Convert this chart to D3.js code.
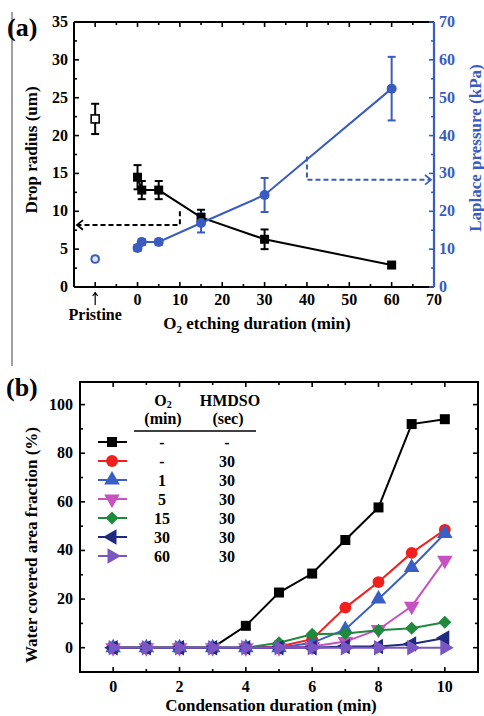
<!DOCTYPE html>
<html>
<head>
<meta charset="utf-8">
<script src="https://cdn.jsdelivr.net/npm/d3@7"></script>
<style>
  body { margin: 0; background: #fff; }
  svg { display: block; }
</style>
</head>
<body>
<svg id="chart" width="484" height="716"></svg>
<script>
// panel (a) data
const etchTime = [0, 1, 5, 15, 30, 60];
const radius = [14.5, 12.8, 12.8, 9.2, 6.3, 2.9];
const radiusErr = [1.6, 1.2, 1.2, 1.0, 1.3, 0.3];
const pressure = [10.3, 11.9, 11.9, 16.9, 24.3, 52.4];
const pressureErr = [0.8, 0.8, 0.8, 2.5, 4.5, 8.4];
const pristineX = -10;
const pristineRadius = 22.2, pristineRadiusErr = 2.0;
const pristinePressure = 7.4, pristinePressureErr = 0.6;
const aXTicks = [0, 10, 20, 30, 40, 50, 60, 70];
const aYLTicks = [0, 5, 10, 15, 20, 25, 30, 35];
const aYRTicks = [0, 10, 20, 30, 40, 50, 60, 70];

// panel (b) data
const condTime = [0, 1, 2, 3, 4, 5, 6, 7, 8, 9, 10];
const sNone = [0, 0, 0, 0, 9, 22.7, 30.5, 44.3, 57.7, 92, 94];
const sH = [0, 0, 0, 0, 0, 0.5, 3.5, 16.5, 27, 39, 48.5];
const sO1 = [0, 0, 0, 0, 0, 0, 2, 7.5, 20, 33, 47];
const sO5 = [0, 0, 0, 0, 0, 0, 0.5, 2.5, 7.5, 17, 36];
const sO15 = [0, 0, 0, 0, 0, 2, 5.5, 5.8, 7.2, 8, 10.5];
const sO30 = [0, 0, 0, 0, 0, 0, 0, 0.5, 0.5, 1.5, 4];
const sO60 = [0, 0, 0, 0, 0, 0, 0, 0, 0, 0, 0];
const legendO2 = ["-", "-", "1", "5", "15", "30", "60"];
const legendHMDSO = ["-", "30", "30", "30", "30", "30", "30"];
const bXTicks = [0, 2, 4, 6, 8, 10];
const bYTicks = [0, 20, 40, 60, 80, 100];

const BLUE = "#3a5bbf";
const series = [
  { v: sNone, color: "#000000", sym: "square" },
  { v: sH, color: "#f21f1f", sym: "circle" },
  { v: sO1, color: "#3a5fc4", sym: "up" },
  { v: sO5, color: "#c651c0", sym: "down" },
  { v: sO15, color: "#1e8a3e", sym: "diamond" },
  { v: sO30, color: "#1f2a7e", sym: "left" },
  { v: sO60, color: "#7a56c2", sym: "right" }
];

const svg = d3.select("#chart")
  .style("font-family", '"Liberation Serif", "Times New Roman", Times, serif')
  .style("font-weight", "bold");

function symPath(sym, size) {
  const types = { square: d3.symbolSquare, circle: d3.symbolCircle, up: d3.symbolTriangle,
    down: d3.symbolTriangle, left: d3.symbolTriangle, right: d3.symbolTriangle, diamond: d3.symbolSquare };
  return d3.symbol().type(types[sym]).size(size)();
}
const symRot = { square: 0, circle: 0, up: 0, down: 180, left: -90, right: 90, diamond: 45 };
const symSize = s => s === "circle" ? 110 : s === "square" ? 100 : s === "diamond" ? 85 : 105;

// gray frame line at left
svg.append("line").attr("x1", 12).attr("x2", 12).attr("y1", 12).attr("y2", 366)
  .attr("stroke", "#8a8a8a").attr("stroke-width", 1.6);

// ---------- Panel (a)
const aX = d3.scaleLinear().domain([-15, 70]).range([74, 434]);
const aYL = d3.scaleLinear().domain([0, 35]).range([287, 22]);
const aYR = d3.scaleLinear().domain([0, 70]).range([287, 22]);
const ga = svg.append("g");

// axes frame
ga.append("line").attr("x1", aX(-15)).attr("x2", aX(70)).attr("y1", aYL(35)).attr("y2", aYL(35))
  .attr("stroke", "#000").attr("stroke-width", 2);
ga.append("line").attr("x1", aX(-15)).attr("x2", aX(70)).attr("y1", aYL(0)).attr("y2", aYL(0))
  .attr("stroke", "#000").attr("stroke-width", 2);
ga.append("line").attr("x1", aX(-15)).attr("x2", aX(-15)).attr("y1", aYL(0)).attr("y2", aYL(35))
  .attr("stroke", "#000").attr("stroke-width", 2);
ga.append("line").attr("x1", aX(70)).attr("x2", aX(70)).attr("y1", aYL(0)).attr("y2", aYL(35))
  .attr("stroke", BLUE).attr("stroke-width", 2.2);

// x ticks (top & bottom, inward)
d3.range(-10, 70, 5).forEach(t => {
  const len = t % 10 === 0 ? 5 : 3;
  ga.append("line").attr("x1", aX(t)).attr("x2", aX(t)).attr("y1", aYL(0)).attr("y2", aYL(0) - len)
    .attr("stroke", "#000").attr("stroke-width", 1.6);
  ga.append("line").attr("x1", aX(t)).attr("x2", aX(t)).attr("y1", aYL(35)).attr("y2", aYL(35) + len)
    .attr("stroke", "#000").attr("stroke-width", 1.6);
});
ga.selectAll(".axl").data(aXTicks).join("text")
  .attr("x", d => aX(d)).attr("y", 305).attr("text-anchor", "middle")
  .attr("font-size", 16).text(d => d);
// small upward arrow pointing at the pristine position
ga.append("path").attr("d", `M${aX(pristineX)},${305}V${293}M${aX(pristineX) - 2.5},${296}L${aX(pristineX)},${292.5}L${aX(pristineX) + 2.5},${296}`)
  .attr("fill", "none").attr("stroke", "#000").attr("stroke-width", 1.2);
ga.append("text").attr("x", aX(pristineX)).attr("y", 320).attr("text-anchor", "middle")
  .attr("font-size", 16).text("Pristine");
const aTitle = ga.append("text").attr("x", 257).attr("y", 329).attr("text-anchor", "middle").attr("font-size", 17);
aTitle.append("tspan").text("O");
aTitle.append("tspan").attr("font-size", 11).attr("dy", 4).text("2");
aTitle.append("tspan").attr("dy", -4).text(" etching duration (min)");

// left y ticks
d3.range(0, 35.1, 2.5).forEach(t => {
  const len = t % 5 === 0 ? 5 : 3;
  ga.append("line").attr("x1", aX(-15)).attr("x2", aX(-15) + len).attr("y1", aYL(t)).attr("y2", aYL(t))
    .attr("stroke", "#000").attr("stroke-width", 1.6);
});
ga.selectAll(".ayl").data(aYLTicks).join("text")
  .attr("x", 68).attr("y", d => aYL(d) + 5).attr("text-anchor", "end")
  .attr("font-size", 16).text(d => d);
ga.append("text").attr("transform", `translate(37,${150}) rotate(-90)`).attr("text-anchor", "middle")
  .attr("font-size", 17).text("Drop radius (um)");

// right y ticks
d3.range(0, 70.1, 5).forEach(t => {
  const len = t % 10 === 0 ? 5 : 3;
  ga.append("line").attr("x1", aX(70)).attr("x2", aX(70) - len).attr("y1", aYR(t)).attr("y2", aYR(t))
    .attr("stroke", BLUE).attr("stroke-width", 1.6);
});
ga.selectAll(".ayr").data(aYRTicks).join("text")
  .attr("x", 439).attr("y", d => aYR(d) + 5).attr("text-anchor", "start")
  .attr("fill", BLUE).attr("font-size", 16).text(d => d);
ga.append("text").attr("transform", `translate(481,${148}) rotate(-90)`).attr("text-anchor", "middle")
  .attr("fill", BLUE).attr("font-size", 17).text("Laplace pressure (kPa)");

// guide arrows
function chevron(g, x, y, dir, color) {
  const s = 6;
  g.append("path").attr("d", `M${x - dir * s},${y - s * 0.8}L${x},${y}L${x - dir * s},${y + s * 0.8}`)
    .attr("fill", "none").attr("stroke", color).attr("stroke-width", 1.8);
}
ga.append("path").attr("d", `M${aX(10)},${aYL(10)}V${aYL(8.2)}H${aX(-15) + 4}`)
  .attr("fill", "none").attr("stroke", "#000").attr("stroke-width", 2).attr("stroke-dasharray", "5,3");
chevron(ga, aX(-15) + 3, aYL(8.2), -1, "#000");
ga.append("path").attr("d", `M${aX(40)},${aYR(34.5)}V${aYR(28.3)}H${aX(70) - 4}`)
  .attr("fill", "none").attr("stroke", BLUE).attr("stroke-width", 2).attr("stroke-dasharray", "5,3");
chevron(ga, aX(70) - 3, aYR(28.3), 1, BLUE);

// error bars helper
function errBar(g, x, yTop, yBot, color) {
  g.append("line").attr("x1", x).attr("x2", x).attr("y1", yTop).attr("y2", yBot).attr("stroke", color).attr("stroke-width", 2);
  [yTop, yBot].forEach(y => g.append("line").attr("x1", x - 4).attr("x2", x + 4).attr("y1", y).attr("y2", y)
    .attr("stroke", color).attr("stroke-width", 2));
}

const radLine = d3.line().x((d, i) => aX(etchTime[i])).y(d => aYL(d));
ga.append("path").datum(radius).attr("d", radLine).attr("fill", "none").attr("stroke", "#000").attr("stroke-width", 2);
const presLine = d3.line().x((d, i) => aX(etchTime[i])).y(d => aYR(d));
ga.append("path").datum(pressure).attr("d", presLine).attr("fill", "none").attr("stroke", BLUE).attr("stroke-width", 2);

radius.forEach((r, i) => errBar(ga, aX(etchTime[i]), aYL(r + radiusErr[i]), aYL(r - radiusErr[i]), "#000"));
pressure.forEach((p, i) => errBar(ga, aX(etchTime[i]), aYR(p + pressureErr[i]), aYR(p - pressureErr[i]), BLUE));
errBar(ga, aX(pristineX), aYL(pristineRadius + pristineRadiusErr), aYL(pristineRadius - pristineRadiusErr), "#000");
errBar(ga, aX(pristineX), aYR(pristinePressure + pristinePressureErr), aYR(pristinePressure - pristinePressureErr), BLUE);

ga.selectAll(".rm").data(radius).join("rect")
  .attr("x", (d, i) => aX(etchTime[i]) - 4.5).attr("y", d => aYL(d) - 4.5)
  .attr("width", 9).attr("height", 9).attr("fill", "#000");
ga.selectAll(".pm").data(pressure).join("circle")
  .attr("cx", (d, i) => aX(etchTime[i])).attr("cy", d => aYR(d)).attr("r", 5).attr("fill", BLUE);
ga.append("rect").attr("x", aX(pristineX) - 4).attr("y", aYL(pristineRadius) - 4)
  .attr("width", 8).attr("height", 8).attr("fill", "#fff").attr("stroke", "#000").attr("stroke-width", 1.6);
ga.append("circle").attr("cx", aX(pristineX)).attr("cy", aYR(pristinePressure)).attr("r", 3.8)
  .attr("fill", "#dfe6f7").attr("stroke", BLUE).attr("stroke-width", 2);

ga.append("text").attr("x", 7).attr("y", 36).attr("font-size", 26).text("(a)");

// ---------- Panel (b)
const bX = d3.scaleLinear().domain([-1, 11]).range([80, 478]);
const bY = d3.scaleLinear().domain([-10, 109.3]).range([672, 382]);
const gb = svg.append("g");

gb.append("rect").attr("x", bX(-1)).attr("y", bY(109.3)).attr("width", bX(11) - bX(-1)).attr("height", bY(-10) - bY(109.3))
  .attr("fill", "none").attr("stroke", "#000").attr("stroke-width", 2);

d3.range(0, 11, 1).forEach(t => {
  const len = t % 2 === 0 ? 5 : 3;
  gb.append("line").attr("x1", bX(t)).attr("x2", bX(t)).attr("y1", bY(-10)).attr("y2", bY(-10) - len)
    .attr("stroke", "#000").attr("stroke-width", 1.6);
  gb.append("line").attr("x1", bX(t)).attr("x2", bX(t)).attr("y1", bY(109.3)).attr("y2", bY(109.3) + len)
    .attr("stroke", "#000").attr("stroke-width", 1.6);
});
d3.range(0, 101, 10).forEach(t => {
  const len = t % 20 === 0 ? 5 : 3;
  gb.append("line").attr("x1", bX(-1)).attr("x2", bX(-1) + len).attr("y1", bY(t)).attr("y2", bY(t))
    .attr("stroke", "#000").attr("stroke-width", 1.6);
  gb.append("line").attr("x1", bX(11)).attr("x2", bX(11) - len).attr("y1", bY(t)).attr("y2", bY(t))
    .attr("stroke", "#000").attr("stroke-width", 1.6);
});
gb.selectAll(".bxl").data(bXTicks).join("text")
  .attr("x", d => bX(d)).attr("y", 692).attr("text-anchor", "middle").attr("font-size", 16).text(d => d);
gb.selectAll(".byl").data(bYTicks).join("text")
  .attr("x", 73).attr("y", d => bY(d) + 5).attr("text-anchor", "end").attr("font-size", 16).text(d => d);
gb.append("text").attr("x", 271).attr("y", 711).attr("text-anchor", "middle").attr("font-size", 17)
  .text("Condensation duration (min)");
gb.append("text").attr("transform", `translate(37,${545}) rotate(-90)`).attr("text-anchor", "middle")
  .attr("font-size", 17).text("Water covered area fraction (%)");
gb.append("text").attr("x", 6).attr("y", 396).attr("font-size", 26).text("(b)");

const bLine = d3.line().x((d, i) => bX(condTime[i])).y(d => bY(d));
series.forEach(s => {
  gb.append("path").datum(s.v).attr("d", bLine).attr("fill", "none").attr("stroke", s.color).attr("stroke-width", 2);
  gb.selectAll(null).data(s.v).join("path")
    .attr("d", symPath(s.sym, symSize(s.sym)))
    .attr("transform", (d, i) => `translate(${bX(condTime[i])},${bY(d)}) rotate(${symRot[s.sym]})`)
    .attr("fill", s.color);
});

// legend table
const lg = gb.append("g");
const h1 = lg.append("text").attr("x", 163).attr("y", 406).attr("text-anchor", "middle").attr("font-size", 16);
h1.append("tspan").text("O");
h1.append("tspan").attr("font-size", 10).attr("dy", 2).text("2");
lg.append("text").attr("x", 163).attr("y", 424).attr("text-anchor", "middle").attr("font-size", 16).text("(min)");
lg.append("text").attr("x", 230).attr("y", 406).attr("text-anchor", "middle").attr("font-size", 16).text("HMDSO");
lg.append("text").attr("x", 228).attr("y", 424).attr("text-anchor", "middle").attr("font-size", 16).text("(sec)");
lg.append("line").attr("x1", 134).attr("x2", 256).attr("y1", 431).attr("y2", 431).attr("stroke", "#000").attr("stroke-width", 1.5);
series.forEach((s, i) => {
  const y = 442 + i * 19;
  lg.append("line").attr("x1", 98).attr("x2", 127).attr("y1", y).attr("y2", y).attr("stroke", s.color).attr("stroke-width", 2);
  lg.append("path").attr("d", symPath(s.sym, symSize(s.sym)))
    .attr("transform", `translate(112,${y}) rotate(${symRot[s.sym]})`).attr("fill", s.color);
  lg.append("text").attr("x", 162).attr("y", y + 6).attr("text-anchor", "middle").attr("font-size", 16).text(legendO2[i]);
  lg.append("text").attr("x", 227).attr("y", y + 6).attr("text-anchor", "middle").attr("font-size", 16).text(legendHMDSO[i]);
});
</script>
</body>
</html>
